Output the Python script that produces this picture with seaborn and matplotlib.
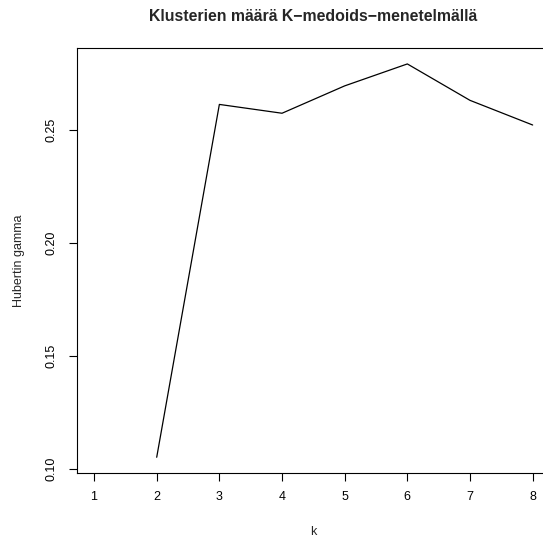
import numpy as np
import pandas as pd
import seaborn as sns
import matplotlib
matplotlib.use("Agg")
import matplotlib.pyplot as plt

k_values = [2, 3, 4, 5, 6, 7, 8]
gamma_values = [0.1051, 0.2611, 0.2572, 0.2693, 0.2790, 0.2629, 0.2520]
x_ticks = [1, 2, 3, 4, 5, 6, 7, 8]
y_ticks = [0.10, 0.15, 0.20, 0.25]
y_tick_labels = ["0.10", "0.15", "0.20", "0.25"]

sns.set_theme(style="white")
plt.rcParams["font.family"] = ["Liberation Sans", "DejaVu Sans"]

df = pd.DataFrame({"k": k_values, "gamma": gamma_values})

fig = plt.figure(figsize=(5.43, 5.38), dpi=100)
W, H = 543, 538
left, right, top, bottom = 76.5, 550.2, 48.2, 473.0
ax = fig.add_axes([left / W, (H - bottom) / H, (right - left) / W, (bottom - top) / H])

sns.lineplot(data=df, x="k", y="gamma", ax=ax, color="black", linewidth=0.9)

ax.set_xlim(0.72, 8.28)
ymin, ymax = min(gamma_values), max(gamma_values)
pad = 0.04 * (ymax - ymin)
ax.set_ylim(ymin - pad, ymax + pad)

ax.set_xticks(x_ticks)
ax.set_xticklabels([str(v) for v in x_ticks])
ax.set_yticks(y_ticks)
ax.set_yticklabels(y_tick_labels, rotation=90, va="center")

for s in ax.spines.values():
    s.set_color("black")
    s.set_linewidth(0.8)

ax.tick_params(axis="both", direction="out", length=6, width=0.8, color="black",
               labelsize=9, labelcolor="black", bottom=True, left=True)
ax.tick_params(axis="x", pad=6.8)
ax.tick_params(axis="y", pad=7.8)

ax.set_xlabel("k", fontsize=9, labelpad=17)
ax.set_ylabel("Hubertin gamma", fontsize=9, labelpad=14.5)
ax.set_title("Klusterien määrä K\u2212medoids\u2212menetelmällä", fontsize=11.4,
             fontweight="bold", pad=19.5)

fig.savefig("out.png", dpi=100)
